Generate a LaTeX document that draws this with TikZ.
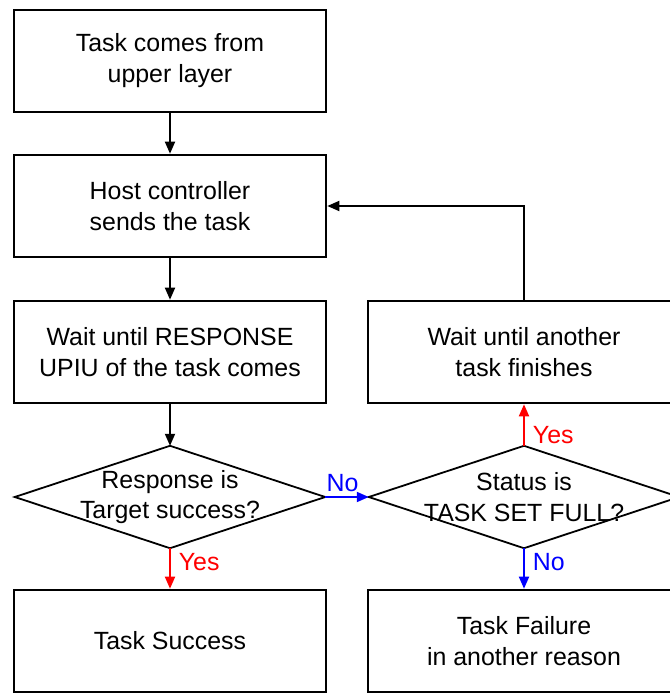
\documentclass[tikz,border=0pt]{standalone}
\usepackage{fontspec}
\setmainfont{Liberation Sans}
\usetikzlibrary{arrows.meta}
\begin{document}
\begin{tikzpicture}[x=1bp,y=-1bp,
  txt/.style={font=\fontsize{25}{31}\selectfont},
  box/.style={txt, draw, line width=2.6bp, minimum width=312bp, minimum height=102bp,
              inner sep=0pt, align=center},
  dtext/.style={txt, minimum width=310bp, minimum height=102bp, inner sep=0pt, align=center},
  dline/.style={line width=1.8bp, line join=miter},
  flow/.style={line width=1.8bp, -{Triangle[length=12bp,width=10bp]}},
  lbl/.style={font=\fontsize{25}{28}\selectfont, inner sep=2bp}
]
\useasboundingbox (0,0) rectangle (670,695);
\clip (0,0) rectangle (670,695);

% process boxes
\node[box] (b1) at (170,61)  {Task comes from\\upper layer};
\node[box] (b2) at (170,206) {Host controller\\sends the task};
\node[box] (b3) at (170,352) {Wait until RESPONSE\\UPIU of the task comes};
\node[box] (b4) at (170,641) {Task Success};
\node[box] (b5) at (524,352) {Wait until another\\task finishes};
\node[box] (b6) at (524,641) {Task Failure\\in another reason};

% decisions
\node[dtext] (d1) at (170,497) {Response is\\Target success?};
\node[dtext] (d2) at (524,497) {Status is\\TASK SET FULL?};
\draw[dline] (d1.west) -- (d1.north) -- (d1.east) -- (d1.south) -- cycle;
\draw[dline] (d2.west) -- (d2.north) -- (d2.east) -- (d2.south) -- cycle;

% main flow
\draw[flow] (b1.south) -- (b2.north);
\draw[flow] (b2.south) -- (b3.north);
\draw[flow] (b3.south) -- (d1.north);
\draw[flow, red] (d1.south) -- (b4.north)
  node[lbl, red, pos=0.35, right=6bp] {Yes};
\draw[flow, blue] (d1.east) -- (d2.west)
  node[lbl, blue, pos=0.4, above=2bp] {No};
\draw[flow, red] (d2.north) -- (b5.south)
  node[lbl, red, pos=0.25, right=6bp] {Yes};
\draw[flow, blue] (d2.south) -- (b6.north)
  node[lbl, blue, pos=0.35, right=6bp] {No};

% retry loop
\draw[flow] (b5.north) |- (b2.east);
\end{tikzpicture}
\end{document}
